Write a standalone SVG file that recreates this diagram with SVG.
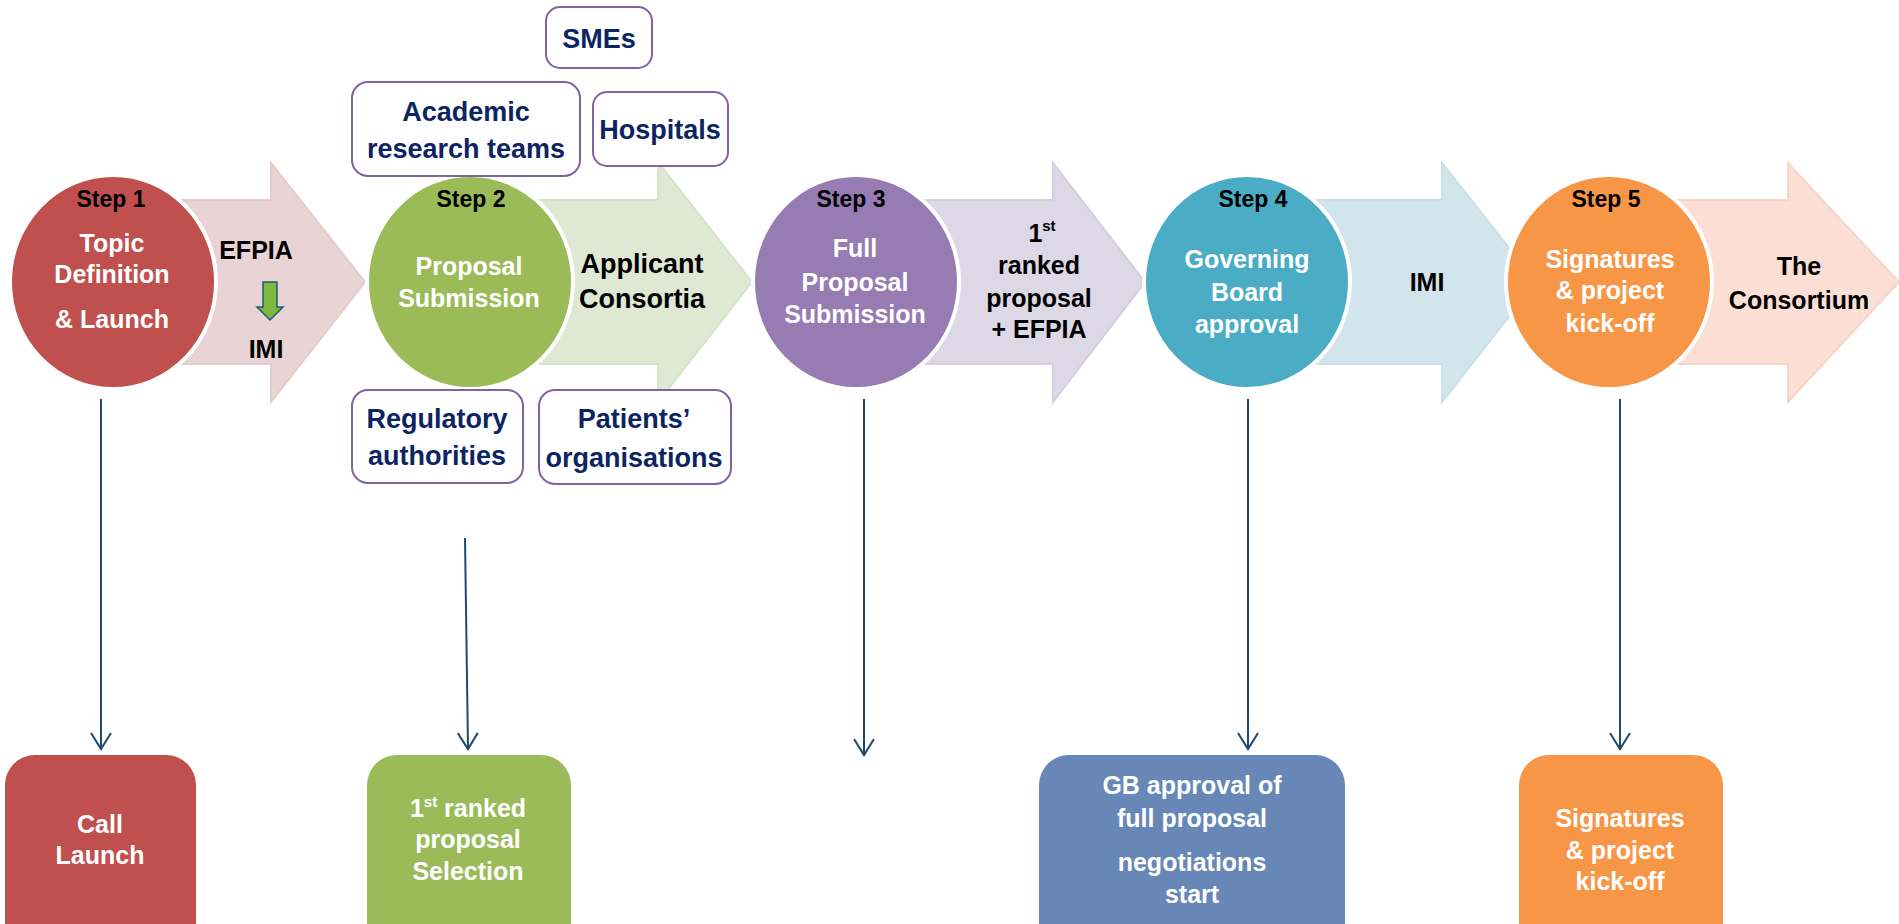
<svg xmlns="http://www.w3.org/2000/svg" width="1899" height="924" viewBox="0 0 1899 924">
<style>
  text { font-family: "Liberation Sans", Arial, sans-serif; font-weight: bold; text-anchor: middle; }
  .step { font-size: 23px; fill: #000000; }
  .ctext { font-size: 25px; fill: #FFFFFF; }
  .atext { font-size: 25px; fill: #000000; }
  .btext { font-size: 27px; fill: #0D2463; }
  .circle { stroke: #FFFFFF; stroke-width: 4; }
  .tag { fill: #FFFFFF; stroke: #8064A2; stroke-width: 2; }
  .conn { stroke: #1D4A72; stroke-width: 2; fill: none; marker-end: url(#vh); }
</style>
<defs>
  <marker id="vh" viewBox="-18 -12 20 24" refX="0" refY="0" markerWidth="20" markerHeight="24" markerUnits="userSpaceOnUse" orient="auto">
    <path d="M-16,-10 L0,0 L-16,10" fill="none" stroke="#1D4A72" stroke-width="2"/>
  </marker>
</defs>
<rect width="1899" height="924" fill="#FFFFFF"/>

<g id="arrow1">
  <polygon points="150,200 271,200 271,163 365,282 271,402 271,364 150,364" fill="#E9D4D5" stroke="#E4CBCC" stroke-width="2"/>
  <text class="atext" x="256" y="259">EFPIA</text>
  <path d="M263,282 H277 V307 H283 L270,320 L257,307 H263 Z" fill="#7DB83F" stroke="#1F5A7A" stroke-width="1.5"/>
  <text class="atext" x="266" y="358">IMI</text>
</g>
<g id="arrow2">
  <polygon points="500,200 658,200 658,162 752,282 658,402 658,364 500,364" fill="#DFE8D2" stroke="#D8E2C9" stroke-width="2"/>
  <text class="atext" x="642" y="273" style="font-size:27px">Applicant</text>
  <text class="atext" x="642" y="308" style="font-size:27px">Consortia</text>
</g>
<g id="arrow3">
  <polygon points="880,200 1053,200 1053,163 1145,282 1053,402 1053,364 880,364" fill="#DCD8E6" stroke="#D4CFE0" stroke-width="2"/>
  <text class="atext" x="1042" y="242">1<tspan dy="-11" style="font-size:15px">st</tspan></text>
  <text class="atext" x="1039" y="274">ranked</text>
  <text class="atext" x="1039" y="307">proposal</text>
  <text class="atext" x="1039" y="338">+ EFPIA</text>
</g>
<g id="arrow4">
  <polygon points="1270,200 1442,200 1442,163 1536,282 1442,402 1442,364 1270,364" fill="#D3E5EC" stroke="#CADFE7" stroke-width="2"/>
  <text class="atext" x="1427" y="291">IMI</text>
</g>
<g id="arrow5">
  <polygon points="1630,200 1788,200 1788,163 1899,282 1788,402 1788,364 1630,364" fill="#FBDFD4" stroke="#F7D6C9" stroke-width="2"/>
  <text class="atext" x="1799" y="275">The</text>
  <text class="atext" x="1799" y="309">Consortium</text>
</g>

<g id="step1">
  <ellipse class="circle" cx="113" cy="282" rx="103" ry="107" fill="#C0504D"/>
  <text class="step" x="111" y="207">Step 1</text>
  <text class="ctext" x="112" y="252">Topic</text>
  <text class="ctext" x="112" y="283">Definition</text>
  <text class="ctext" x="112" y="328">&amp; Launch</text>
</g>
<g id="step2">
  <ellipse class="circle" cx="470" cy="282" rx="103" ry="107" fill="#9BBB59"/>
  <text class="step" x="471" y="207">Step 2</text>
  <text class="ctext" x="469" y="275">Proposal</text>
  <text class="ctext" x="469" y="307">Submission</text>
</g>
<g id="step3">
  <ellipse class="circle" cx="856" cy="282" rx="103" ry="107" fill="#967CB2"/>
  <text class="step" x="851" y="207">Step 3</text>
  <text class="ctext" x="855" y="257">Full</text>
  <text class="ctext" x="855" y="291">Proposal</text>
  <text class="ctext" x="855" y="323">Submission</text>
</g>
<g id="step4">
  <ellipse class="circle" cx="1247" cy="282" rx="103" ry="107" fill="#4BACC6"/>
  <text class="step" x="1253" y="207">Step 4</text>
  <text class="ctext" x="1247" y="268">Governing</text>
  <text class="ctext" x="1247" y="301">Board</text>
  <text class="ctext" x="1247" y="333">approval</text>
</g>
<g id="step5">
  <ellipse class="circle" cx="1609" cy="282" rx="103" ry="107" fill="#F79646"/>
  <text class="step" x="1606" y="207">Step 5</text>
  <text class="ctext" x="1610" y="268">Signatures</text>
  <text class="ctext" x="1610" y="299">&amp; project</text>
  <text class="ctext" x="1610" y="332">kick-off</text>
</g>

<g id="tag-smes">
  <rect class="tag" x="546" y="7" width="106" height="61" rx="14"/>
  <text class="btext" x="599" y="48">SMEs</text>
</g>
<g id="tag-academic">
  <rect class="tag" x="352" y="82" width="228" height="94" rx="16"/>
  <text class="btext" x="466" y="121">Academic</text>
  <text class="btext" x="466" y="158">research teams</text>
</g>
<g id="tag-hospitals">
  <rect class="tag" x="593" y="92" width="135" height="74" rx="14"/>
  <text class="btext" x="660" y="139">Hospitals</text>
</g>
<g id="tag-regulatory">
  <rect class="tag" x="352" y="390" width="171" height="93" rx="16"/>
  <text class="btext" x="437" y="428">Regulatory</text>
  <text class="btext" x="437" y="465">authorities</text>
</g>
<g id="tag-patients">
  <rect class="tag" x="539" y="390" width="192" height="94" rx="16"/>
  <text class="btext" x="634" y="428">Patients’</text>
  <text class="btext" x="634" y="467">organisations</text>
</g>

<g id="connectors">
  <line class="conn" x1="101" y1="399" x2="101" y2="749"/>
  <line class="conn" x1="465" y1="538" x2="468" y2="749"/>
  <line class="conn" x1="864" y1="399" x2="864" y2="755"/>
  <line class="conn" x1="1248" y1="399" x2="1248" y2="749"/>
  <line class="conn" x1="1620" y1="399" x2="1620" y2="749"/>
</g>

<g id="out1">
  <rect x="5" y="755" width="191" height="200" rx="30" fill="#C0504D"/>
  <text class="ctext" x="100" y="833">Call</text>
  <text class="ctext" x="100" y="864">Launch</text>
</g>
<g id="out2">
  <rect x="367" y="755" width="204" height="200" rx="30" fill="#9BBB59"/>
  <text class="ctext" x="468" y="817">1<tspan dy="-10" style="font-size:15px">st</tspan><tspan dy="10"> ranked</tspan></text>
  <text class="ctext" x="468" y="848">proposal</text>
  <text class="ctext" x="468" y="880">Selection</text>
</g>
<g id="out4">
  <rect x="1039" y="755" width="306" height="200" rx="30" fill="#6787B6"/>
  <text class="ctext" x="1192" y="794">GB approval of</text>
  <text class="ctext" x="1192" y="827">full proposal</text>
  <text class="ctext" x="1192" y="871">negotiations</text>
  <text class="ctext" x="1192" y="903">start</text>
</g>
<g id="out5">
  <rect x="1519" y="755" width="204" height="200" rx="30" fill="#F79646"/>
  <text class="ctext" x="1620" y="827">Signatures</text>
  <text class="ctext" x="1620" y="859">&amp; project</text>
  <text class="ctext" x="1620" y="890">kick-off</text>
</g>
</svg>
